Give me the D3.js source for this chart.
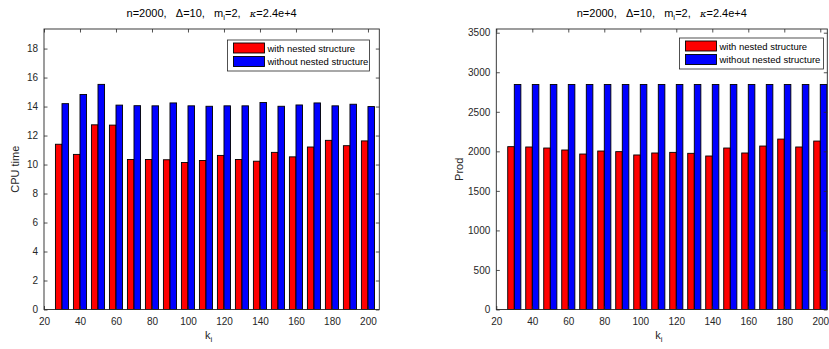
<!DOCTYPE html>
<html>
<head>
<meta charset="utf-8">
<script src="https://cdn.jsdelivr.net/npm/d3@7"></script>
<style>
  body { margin: 0; background: #fff; }
  svg { display: block; font-family: "Liberation Sans", Arial, sans-serif; }
  .tick text { fill: #262626; font-size: 10px; }
</style>
</head>
<body>
<div id="chart"></div>
<script>
var W = 829, H = 349;

// k_i values (groups)
var kValues = [30, 40, 50, 60, 70, 80, 90, 100, 110, 120, 130, 140, 150, 160, 170, 180, 190, 200];

// CPU time
var cpuNested = [11.4, 10.7, 12.74, 12.72, 10.35, 10.35, 10.33, 10.14, 10.28, 10.63, 10.35, 10.23, 10.84, 10.53, 11.21, 11.67, 11.3, 11.63];
var cpuPlain  = [14.2, 14.83, 15.53, 14.1, 14.06, 14.05, 14.25, 14.05, 14.02, 14.05, 14.05, 14.28, 14.02, 14.11, 14.25, 14.05, 14.16, 14.0];

// Prod
var prodNested = [2059, 2055, 2042, 2017, 1966, 2004, 1996, 1954, 1979, 1987, 1975, 1941, 2042, 1979, 2067, 2155, 2055, 2130];
var prodPlain  = [2845, 2845, 2845, 2845, 2845, 2845, 2845, 2845, 2845, 2845, 2845, 2845, 2845, 2845, 2845, 2845, 2845, 2845];

var xTicks = [20, 40, 60, 80, 100, 120, 140, 160, 180, 200];
var cpuTicks = [0, 2, 4, 6, 8, 10, 12, 14, 16, 18];
var prodTicks = [0, 500, 1000, 1500, 2000, 2500, 3000, 3500];

var seriesNames = ['with nested structure', 'without nested structure'];
var colors = ['#ff0000', '#0000ff'];

var svg = d3.select('#chart').append('svg')
    .attr('width', W)
    .attr('height', H);

function drawPanel(p) {
    var x = d3.scaleLinear().domain(p.xDomain).range([p.left, p.right]),
        y = d3.scaleLinear().domain(p.yDomain).range([p.bottom, p.top]);

    var g = svg.append('g');

    var barW = 3.65;

    // bars
    [p.a, p.b].forEach(function(vals, s) {
        g.selectAll('.bar' + s)
            .data(vals)
            .enter()
            .append('rect')
            .attr('x', function(d, i) { return x(kValues[i] + (s === 0 ? -barW : 0)); })
            .attr('y', function(d) { return y(d); })
            .attr('width', x(barW) - x(0))
            .attr('height', function(d) { return y(0) - y(d); })
            .attr('fill', colors[s])
            .attr('stroke', '#000')
            .attr('stroke-width', 0.9);
    });

    // axes
    var axisColor = '#262626';
    var tickLen = 3.5;
    var fmt = d3.format('d');

    var xb = g.append('g')
        .attr('transform', 'translate(0,' + p.bottom + ')')
        .call(d3.axisBottom(x).tickValues(xTicks).tickSize(-tickLen).tickPadding(8).tickFormat(fmt));
    var xt = g.append('g')
        .attr('transform', 'translate(0,' + p.top + ')')
        .call(d3.axisTop(x).tickValues(xTicks).tickSize(-tickLen).tickFormat(''));
    var yl = g.append('g')
        .attr('transform', 'translate(' + p.left + ',0)')
        .call(d3.axisLeft(y).tickValues(p.yTicks).tickSize(-tickLen).tickPadding(6).tickFormat(fmt));
    var yr = g.append('g')
        .attr('transform', 'translate(' + p.right + ',0)')
        .call(d3.axisRight(y).tickValues(p.yTicks).tickSize(-tickLen).tickFormat(''));

    [xb, xt, yl, yr].forEach(function(a) {
        a.select('.domain').remove();
        a.selectAll('.tick line').attr('stroke', axisColor).attr('stroke-width', 0.8);
    });

    g.append('rect')
        .attr('x', p.left).attr('y', p.top)
        .attr('width', p.right - p.left).attr('height', p.bottom - p.top)
        .attr('fill', 'none')
        .attr('stroke', axisColor)
        .attr('stroke-width', 0.9);

    // title
    var cx = (p.left + p.right) / 2;
    var title = g.append('text')
        .attr('x', cx).attr('y', 17)
        .attr('text-anchor', 'middle')
        .attr('fill', '#000')
        .style('font-size', '11px')
        .attr('xml:space', 'preserve');
    title.append('tspan').text('n=2000,   \u0394=10,   m');
    title.append('tspan').attr('dy', 3).style('font-size', '8px').text('i');
    title.append('tspan').attr('dy', -3).text('=2,   ');
    title.append('tspan').style('font-style', 'italic').style('font-family', '"DejaVu Serif", serif').style('font-size', '10px').text('\u03ba');
    title.append('tspan').text('=2.4e+4');

    // x label
    var xl = g.append('text')
        .attr('x', cx - 3).attr('y', 339)
        .attr('text-anchor', 'middle')
        .attr('fill', '#262626')
        .style('font-size', '11px');
    xl.append('tspan').text('k');
    xl.append('tspan').attr('dy', 3).style('font-size', '8px').text('i');

    // y label
    g.append('text')
        .attr('transform', 'translate(' + p.ylabelX + ',' + ((p.top + p.bottom) / 2) + ') rotate(-90)')
        .attr('text-anchor', 'middle')
        .attr('fill', '#262626')
        .style('font-size', '11px')
        .text(p.ylabel);

    // legend
    var lg = g.append('g');
    lg.append('rect')
        .attr('x', p.legX).attr('y', p.legY)
        .attr('width', p.legW).attr('height', 31)
        .attr('fill', '#fff')
        .attr('stroke', axisColor)
        .attr('stroke-width', 0.8);
    seriesNames.forEach(function(name, i) {
        lg.append('rect')
            .attr('x', p.legX + 6).attr('y', p.legY + 3 + i * 13.5)
            .attr('width', 31).attr('height', 10)
            .attr('fill', colors[i])
            .attr('stroke', '#000')
            .attr('stroke-width', 0.9);
        lg.append('text')
            .attr('x', p.legX + 40).attr('y', p.legY + 11.5 + i * 13.5)
            .attr('fill', '#000')
            .style('font-size', '9.5px')
            .text(name);
    });
}

drawPanel({
    left: 44, right: 379.3, top: 29, bottom: 309.5,
    xDomain: [20, 206.3], yDomain: [0, 19.35],
    a: cpuNested, b: cpuPlain, yTicks: cpuTicks,
    ylabel: 'CPU time', ylabelX: 19,
    legX: 227.5, legY: 40, legW: 142
});

drawPanel({
    left: 496.3, right: 827.3, top: 29, bottom: 309.5,
    xDomain: [20, 203.9], yDomain: [0, 3547],
    a: prodNested, b: prodPlain, yTicks: prodTicks,
    ylabel: 'Prod', ylabelX: 463,
    legX: 679.5, legY: 38, legW: 144
});
</script>
</body>
</html>
